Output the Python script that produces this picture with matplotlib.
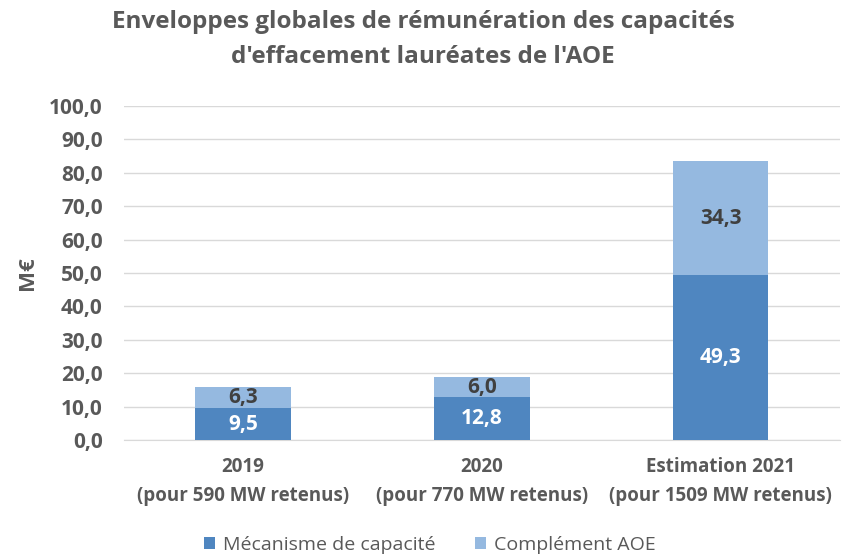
import matplotlib.pyplot as plt
import numpy as np

categories = ["2019\n(pour 590 MW retenus)",
              "2020\n(pour 770 MW retenus)",
              "Estimation 2021\n(pour 1509 MW retenus)"]
mecanisme = [9.5, 12.8, 49.3]
complement = [6.3, 6.0, 34.3]
series_names = ["Mécanisme de capacité", "Complément AOE"]

plt.rcParams['font.family'] = ['Open Sans', 'DejaVu Sans']

dark = '#4F86C0'
light = '#95B9E0'
grey = '#595959'

fig = plt.figure(figsize=(8.46, 5.56), dpi=100)
ax = fig.add_axes([0.146, 0.2086, 0.847, 0.6008])

x = np.arange(len(categories))
w = 0.40
b1 = ax.bar(x, mecanisme, w, color=dark, label=series_names[0], zorder=3)
b2 = ax.bar(x, complement, w, bottom=mecanisme, color=light, label=series_names[1], zorder=3)

for i in range(len(x)):
    ax.text(x[i], mecanisme[i] / 2, f"{mecanisme[i]:.1f}".replace('.', ','),
            ha='center', va='center', color='white', fontsize=15, fontweight='bold', zorder=4)
    ax.text(x[i], mecanisme[i] + complement[i] / 2, f"{complement[i]:.1f}".replace('.', ','),
            ha='center', va='center', color='#404040', fontsize=15, fontweight='bold', zorder=4)

ax.set_xlim(-0.5, 2.5)
ax.set_ylim(0, 100)
ax.set_yticks(np.arange(0, 101, 10))
ax.set_yticklabels([f"{v:.1f}".replace('.', ',') for v in np.arange(0, 101, 10)],
                   fontsize=15, fontweight='bold', color=grey)
ax.set_xticks(x)
ax.set_xticklabels(categories, fontsize=13.5, fontweight='bold', color=grey, linespacing=1.6)
ax.tick_params(axis='y', length=0, pad=15)
ax.tick_params(axis='x', length=0, pad=12)
ax.grid(axis='y', color='#D9D9D9', linewidth=1, zorder=0)
for s in ['top', 'right', 'left']:
    ax.spines[s].set_visible(False)
ax.spines['bottom'].set_color('#D9D9D9')

ax.set_ylabel("M€", fontsize=16, fontweight='bold', color=grey, labelpad=8)

fig.text(0.5, 0.929, "Enveloppes globales de rémunération des capacités\nd'effacement lauréates de l'AOE",
         ha='center', va='center', fontsize=17.5, fontweight='bold', color=grey, linespacing=1.65)

fig.legend(handles=[b1, b2], loc='center', bbox_to_anchor=(0.508, 0.02), ncol=2,
           frameon=False, fontsize=14, labelcolor=grey, handlelength=0.6, handleheight=0.6,
           columnspacing=2.0, handletextpad=0.4)

fig.savefig('out.png', dpi=100)
